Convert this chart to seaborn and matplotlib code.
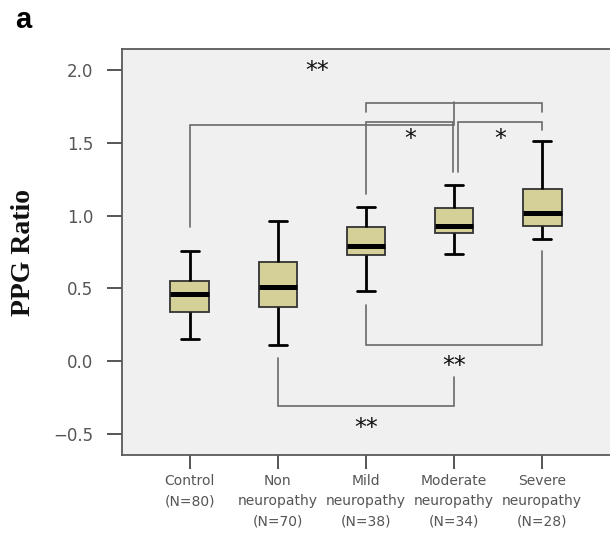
import numpy as np
import pandas as pd
import matplotlib
matplotlib.use("Agg")
import matplotlib.pyplot as plt
import seaborn as sns

# ---- data (five-number summaries) ----
groups = ["Control\n(N=80)", "Non\nneuropathy\n(N=70)", "Mild\nneuropathy\n(N=38)",
          "Moderate\nneuropathy\n(N=34)", "Severe\nneuropathy\n(N=28)"]
whisker_low = [0.15, 0.11, 0.48, 0.74, 0.84]
q1 = [0.34, 0.37, 0.73, 0.88, 0.93]
median = [0.46, 0.51, 0.79, 0.93, 1.02]
q3 = [0.55, 0.68, 0.92, 1.05, 1.18]
whisker_high = [0.76, 0.96, 1.06, 1.21, 1.51]
yticks = [-0.5, 0.0, 0.5, 1.0, 1.5, 2.0]

rows = []
for i, g in enumerate(groups):
    for v in (whisker_low[i], q1[i], median[i], q3[i], whisker_high[i]):
        rows.append({"group": g, "PPG": v})
df = pd.DataFrame(rows)

# significance brackets: (path x list, path y list)
brackets = [
    ([0, 0, 3.0, 3.0], [0.92, 1.62, 1.62, 1.778]),
    ([2, 2, 4, 4], [1.715, 1.776, 1.776, 1.715]),
    ([2, 2, 2.985, 2.985], [1.15, 1.644, 1.644, 1.297]),
    ([3.04, 3.04, 4, 4], [1.297, 1.644, 1.644, 1.589]),
    ([2, 2, 4, 4], [0.386, 0.11, 0.11, 0.755]),
    ([1, 1, 3, 3], [0.02, -0.31, -0.31, -0.11]),
]
stars = [("**", 1.45, 1.99), ("*", 2.5, 1.525), ("*", 3.52, 1.525),
         ("**", 3.0, -0.03), ("**", 2.0, -0.455)]

sns.set_style("white")
plt.rcParams['font.family'] = ['DejaVu Sans']

fig = plt.figure(figsize=(6.10, 5.36), dpi=100)
ax = fig.add_axes([0.2, 0.151, 0.8, 0.7575])
ax.set_facecolor("#F0F0F0")

sns.boxplot(data=df, x="group", y="PPG", order=groups, ax=ax, whis=np.inf,
            width=0.44, color="#D5CF98", saturation=1,
            linecolor="#222222", linewidth=1.3,
            medianprops=dict(color="black", linewidth=3.6),
            whiskerprops=dict(color="black", linewidth=2.0),
            capprops=dict(color="black", linewidth=2.0),
            boxprops=dict(edgecolor="#333333", linewidth=1.3))

# narrow the whisker caps slightly
for ln in ax.lines:
    xd = np.asarray(ln.get_xdata(), dtype=float)
    yd = np.asarray(ln.get_ydata(), dtype=float)
    if len(xd) == 2 and yd[0] == yd[1] and abs((xd[1] - xd[0]) - 0.22) < 0.02:
        c = xd.mean()
        ln.set_xdata([c - 0.105, c + 0.105])

for xs, ys in brackets:
    ax.plot(xs, ys, color="#6A6A6A", lw=1.2, solid_joinstyle="miter", zorder=3)
for s, x, y in stars:
    ax.text(x, y, s, ha="center", va="center", fontsize=17, color="#111111")

ax.set_xlim(-0.77, 4.77)
ax.set_ylim(-0.644, 2.144)
ax.set_yticks(yticks)
ax.set_yticklabels([f"{t:.1f}".replace("-", "\u2212") for t in yticks])
ax.set_xlabel("")
ax.set_ylabel("PPG Ratio", family="Liberation Serif", fontweight="bold",
              fontsize=20, color="#111111")
ax.yaxis.set_label_coords(-0.176, 0.5)
ax.tick_params(axis="y", length=11, width=1.4, color="#555555",
               labelcolor="#555555", labelsize=12, pad=9.5, left=True)
ax.tick_params(axis="x", length=10, width=1.4, color="#555555",
               labelcolor="#555555", labelsize=10, pad=3.6, bottom=True)
for t in ax.get_xticklabels():
    t.set_linespacing(1.57)
for sp in ax.spines.values():
    sp.set_color("#5A5A5A")
    sp.set_linewidth(1.3)
ax.spines["right"].set_visible(False)

fig.text(0.025, 1 - 28 / 536, "a", fontsize=21, fontweight="bold",
         family="Liberation Sans", ha="left", va="baseline", color="black")

fig.savefig("out.png", dpi=100)
